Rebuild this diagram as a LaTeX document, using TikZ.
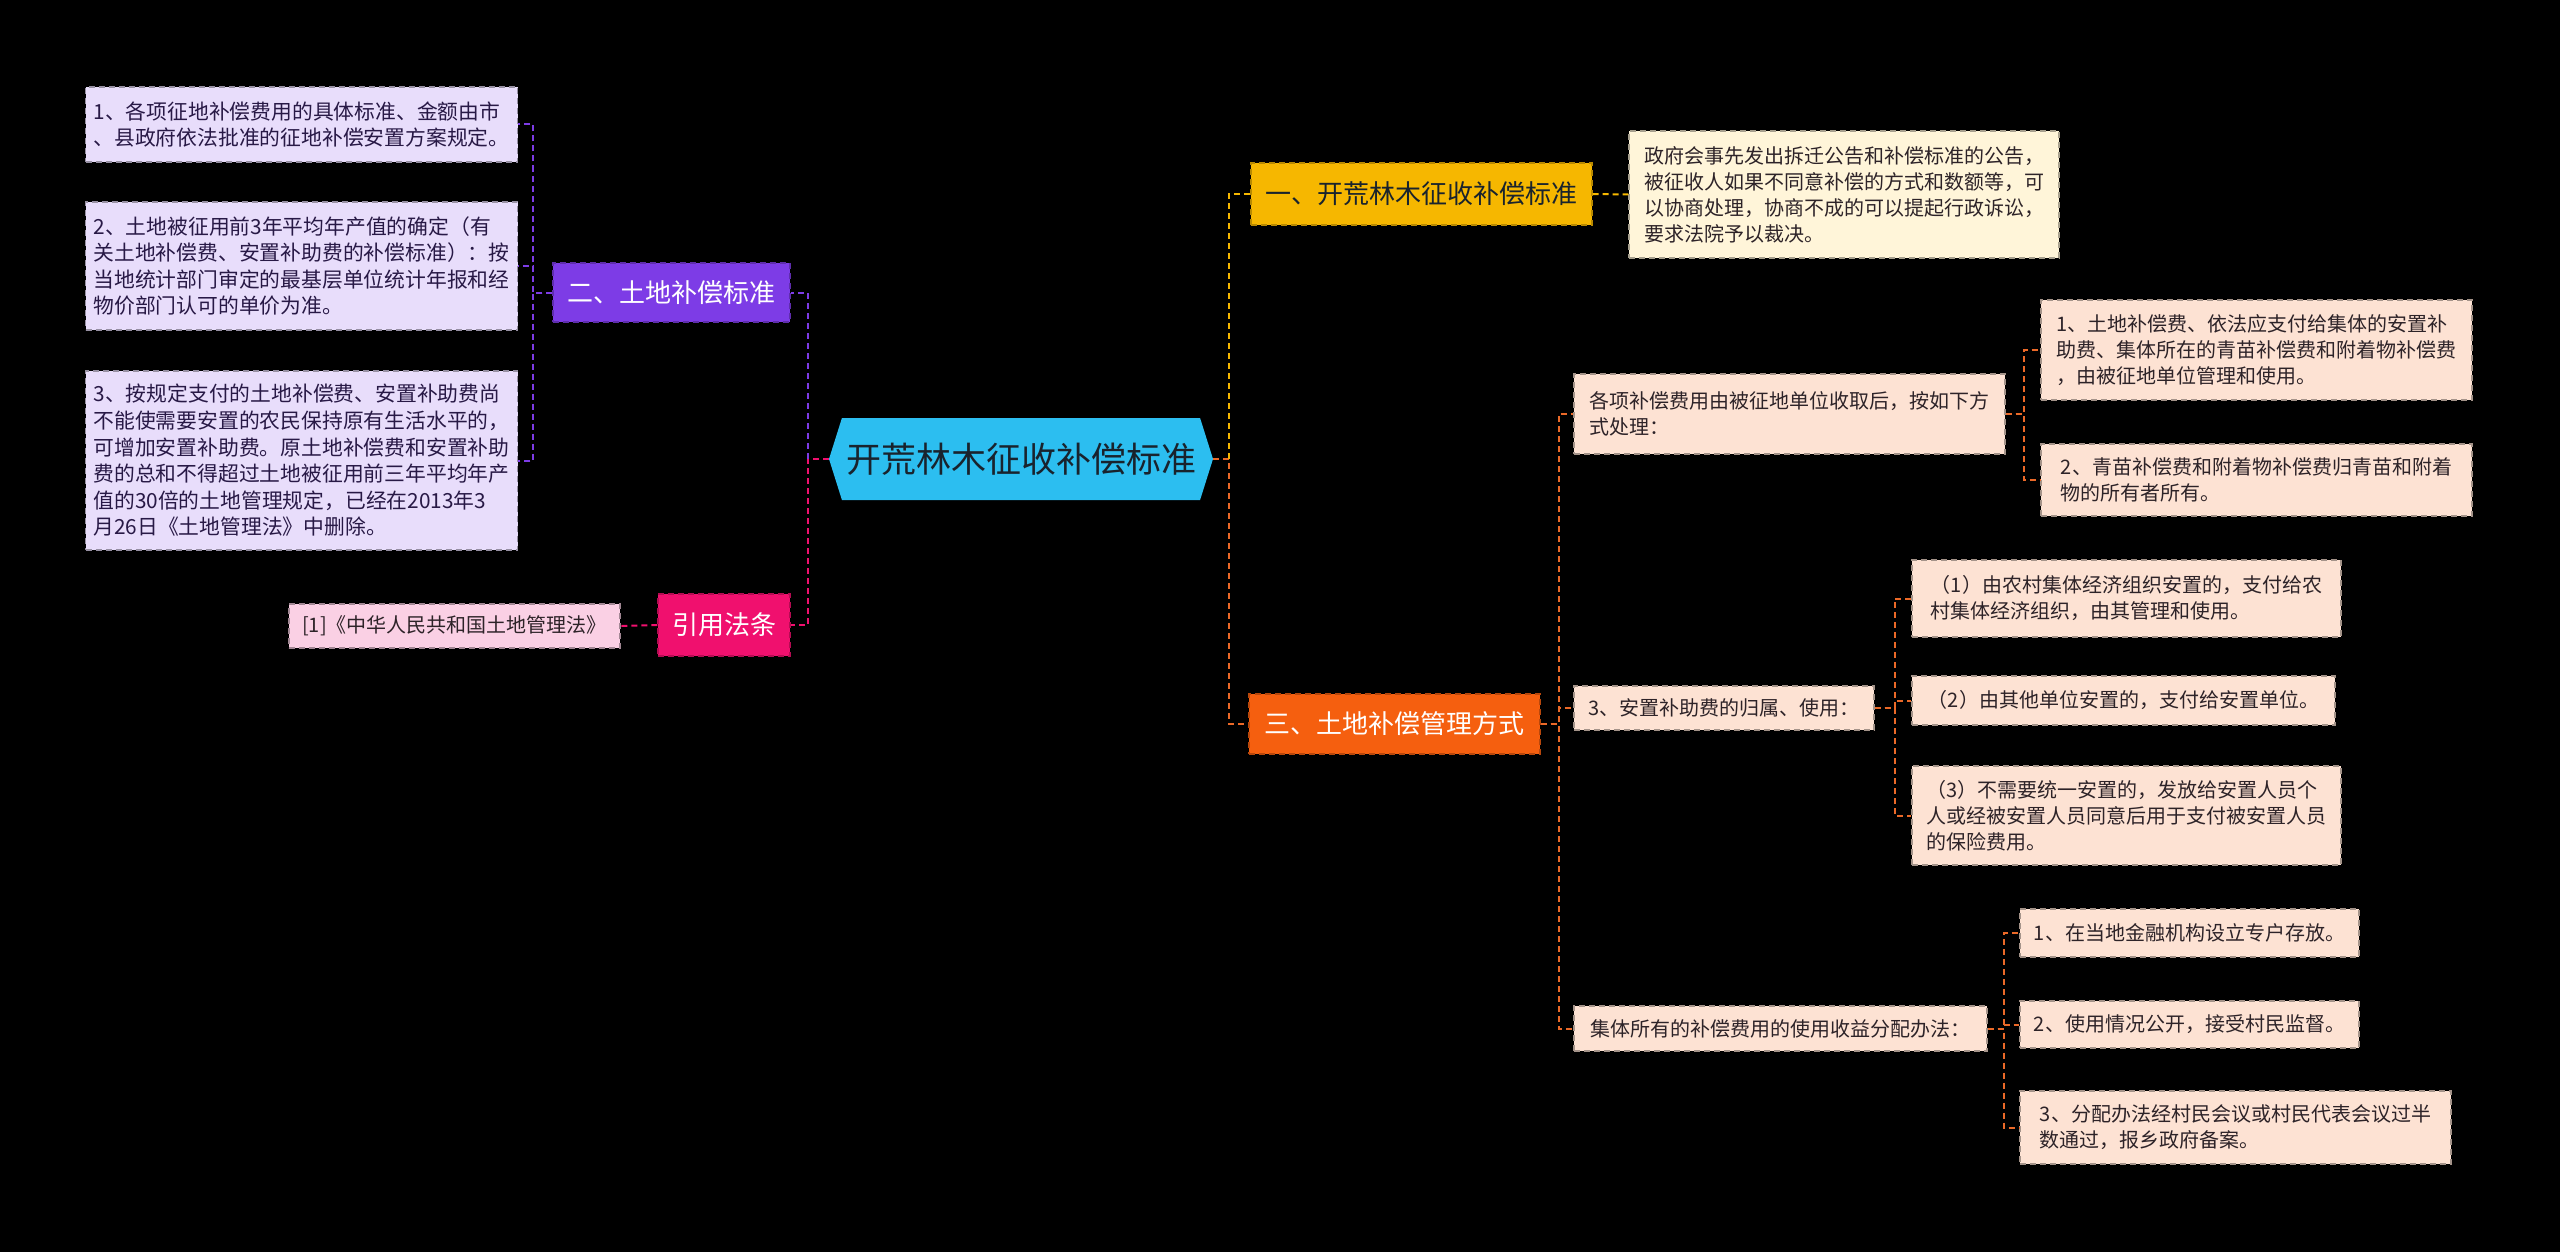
\documentclass[tikz,border=0pt]{standalone}
\usepackage{fontspec}
\setmainfont{Noto Sans CJK SC}
\usetikzlibrary{shapes.symbols}
\definecolor{rootcyan}  {RGB}{ 44,190,240}
\definecolor{rootink}   {RGB}{ 25, 35, 45}
\definecolor{topicpurple}{RGB}{125, 60,230}
\definecolor{topicpink} {RGB}{240, 16,110}
\definecolor{topicamber}{RGB}{246,183,  0}
\definecolor{topicorange}{RGB}{245, 95, 15}
\definecolor{leaflilac} {RGB}{232,221,251}
\definecolor{leafrose}  {RGB}{250,208,228}
\definecolor{leafcream} {RGB}{255,245,217}
\definecolor{leafpeach} {RGB}{253,226,211}
\definecolor{leafink}   {RGB}{ 45, 35, 40}
\definecolor{lilacink}  {RGB}{ 40, 25, 70}
\definecolor{linkorange}{RGB}{235,105, 40}

\begin{document}
\begin{tikzpicture}[
  x=0.5pt, y=-0.5pt,
  every node/.style={font=\fontsize{10}{13}\selectfont, align=left, inner xsep=4pt, inner ysep=3pt},
  main/.style={signal, signal to=west and east, signal pointer angle=145, fill=rootcyan, text=rootink,
    font=\fontsize{17.5}{21}\selectfont, minimum width=192pt, minimum height=41pt, inner sep=0pt},
  topic/.style={fill=#1, draw=#1!75!black, dash pattern=on 3pt off 2pt, line width=0.6pt,
    font=\fontsize{13}{16}\selectfont, text=white, align=center},
  leaf/.style={fill=#1, draw=#1!65!black, dash pattern=on 3pt off 2pt, line width=0.6pt, text=leafink},
  lilac/.style={leaf=leaflilac, text=lilacink, font=\fontsize{10.4}{13.3}\selectfont},
  link/.style={draw=#1, line width=1pt, dash pattern=on 3pt off 2pt}
]
  \fill[black] (0,0) rectangle (2560,1252);

  % Nodes
  \node (root) [main] at (1021,459) {开荒林木征收补偿标准};

  \node (t2) [topic=topicpurple, minimum width=118.5pt, minimum height=29.5pt] at (671.5,292.5) {二、土地补偿标准};
  \node (t4) [topic=topicpink, minimum width=66pt, minimum height=31pt] at (724,625) {引用法条};
  \node (t1) [topic=topicamber, text=rootink, minimum width=170.5pt, minimum height=31pt] at (1421.5,194) {一、开荒林木征收补偿标准};
  \node (t3) [topic=topicorange, minimum width=145.5pt, minimum height=30pt] at (1394.5,724) {三、土地补偿管理方式};

  \node (l1) [lilac, minimum width=214.5pt, minimum height=37.5pt] at (301.5,124.5)
    {1、各项征地补偿费用的具体标准、金额由市\\、县政府依法批准的征地补偿安置方案规定。};
  \node (l2) [lilac, minimum width=214.5pt, minimum height=64pt] at (301.5,266)
    {2、土地被征用前3年平均年产值的确定（有\\关土地补偿费、安置补助费的补偿标准）：按\\当地统计部门审定的最基层单位统计年报和经\\物价部门认可的单价为准。};
  \node (l3) [lilac, minimum width=214.5pt, minimum height=89.5pt] at (301.5,460.5)
    {3、按规定支付的土地补偿费、安置补助费尚\\不能使需要安置的农民保持原有生活水平的，\\可增加安置补助费。原土地补偿费和安置补助\\费的总和不得超过土地被征用前三年平均年产\\值的30倍的土地管理规定，已经在2013年3\\月26日《土地管理法》中删除。};
  \node (r1) [leaf=leafrose, minimum width=165.5pt, minimum height=22pt] at (454.5,626)
    {[1]《中华人民共和国土地管理法》};

  \node (y1) [leaf=leafcream, minimum width=215pt, minimum height=63.5pt] at (1844,194.5)
    {政府会事先发出拆迁公告和补偿标准的公告，\\被征收人如果不同意补偿的方式和数额等，可\\以协商处理，协商不成的可以提起行政诉讼，\\要求法院予以裁决。};

  \node (a) [leaf=leafpeach, minimum width=215.5pt, minimum height=40pt] at (1789.5,414)
    {各项补偿费用由被征地单位收取后，按如下方\\式处理：};
  \node (b) [leaf=leafpeach, minimum width=150pt, minimum height=22pt] at (1724,708)
    {3、安置补助费的归属、使用：};
  \node (c) [leaf=leafpeach, minimum width=206.5pt, minimum height=22.5pt] at (1780.5,1028.5)
    {集体所有的补偿费用的使用收益分配办法：};

  \node (a1) [leaf=leafpeach, minimum width=215.5pt, minimum height=50pt] at (2256.5,350)
    {1、土地补偿费、依法应支付给集体的安置补\\助费、集体所在的青苗补偿费和附着物补偿费\\，由被征地单位管理和使用。};
  \node (a2) [leaf=leafpeach, minimum width=215.5pt, minimum height=36pt] at (2256.5,480)
    {2、青苗补偿费和附着物补偿费归青苗和附着\\物的所有者所有。};

  \node (b1) [leaf=leafpeach, minimum width=214.5pt, minimum height=38.5pt] at (2126.5,598.5)
    {（1）由农村集体经济组织安置的，支付给农\\村集体经济组织，由其管理和使用。};
  \node (b2) [leaf=leafpeach, minimum width=211.5pt, minimum height=24.5pt] at (2123.5,700.5)
    {（2）由其他单位安置的，支付给安置单位。};
  \node (b3) [leaf=leafpeach, minimum width=214.5pt, minimum height=49.5pt] at (2126.5,815.5)
    {（3）不需要统一安置的，发放给安置人员个\\人或经被安置人员同意后用于支付被安置人员\\的保险费用。};

  \node (c1) [leaf=leafpeach, minimum width=169.5pt, minimum height=24pt] at (2189.5,933)
    {1、在当地金融机构设立专户存放。};
  \node (c2) [leaf=leafpeach, minimum width=169.5pt, minimum height=23.5pt] at (2189.5,1024.5)
    {2、使用情况公开，接受村民监督。};
  \node (c3) [leaf=leafpeach, minimum width=215.5pt, minimum height=36.5pt] at (2235.5,1127.5)
    {3、分配办法经村民会议或村民代表会议过半\\数通过，报乡政府备案。};

  % Paths
  \draw [link=topicpink] (root.west) -- ++(-21,0) |- (t4.east);
  \draw [link=topicpurple] (root.west) ++(-21,0) |- (t2.east);
  \foreach \n in {l1,l2,l3}
    \draw [link=topicpurple] (t2.west) -- ++(-19,0) |- (\n.east);
  \draw [link=topicpink] (t4.west) -- (r1.east);

  \draw [link=linkorange] (root.east) -- ++(16,0) |- (t3.west);
  \draw [link=topicamber] (root.east) ++(16,0) |- (t1.west);
  \draw [link=topicamber] (t1.east) -- (y1.west);

  \foreach \n in {a,b,c}
    \draw [link=linkorange] (t3.east) -- ++(18,0) |- (\n.west);
  \foreach \n in {a1,a2}
    \draw [link=linkorange] (a.east) -- ++(18,0) |- (\n.west);
  \foreach \n in {b1,b2,b3}
    \draw [link=linkorange] (b.east) -- ++(20,0) |- (\n.west);
  \foreach \n in {c1,c2,c3}
    \draw [link=linkorange] (c.east) -- ++(16,0) |- (\n.west);
\end{tikzpicture}
\end{document}
